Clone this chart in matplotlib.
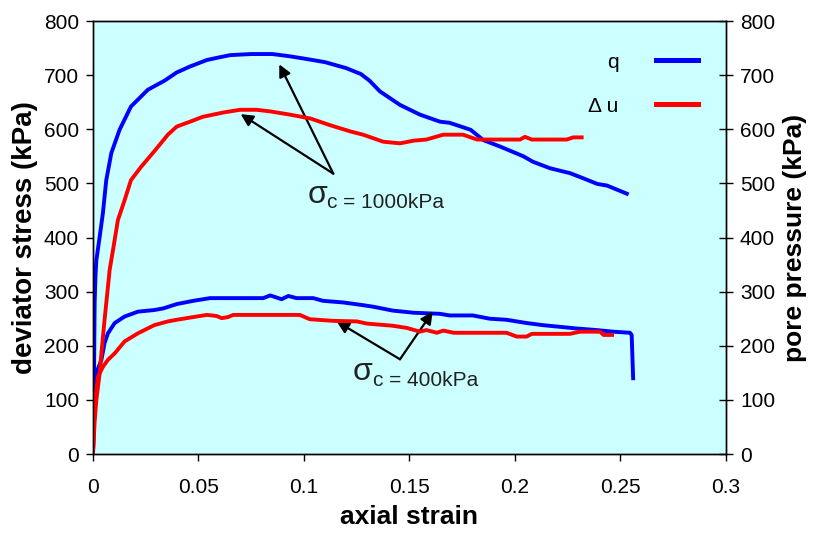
import matplotlib.pyplot as plt

plt.rcParams['font.family'] = ['Liberation Sans', 'DejaVu Sans']

# sigma_c = 1000 kPa test
strain_q1000 = [0, 0.0005, 0.0008, 0.0012, 0.0016, 0.0032, 0.0047, 0.0063, 0.0087, 0.0126,
                0.018, 0.026, 0.034, 0.0397, 0.046, 0.054, 0.060, 0.065, 0.075, 0.085,
                0.093, 0.101, 0.110, 0.120, 0.127, 0.131, 0.136, 0.1455, 0.155, 0.1645,
                0.169, 0.179, 0.185, 0.193, 0.204, 0.2085, 0.2166, 0.226, 0.232, 0.239,
                0.2436, 0.253]
q1000 = [0, 150, 280, 330, 358, 402, 445, 506, 556, 599,
         642, 673, 690, 705, 716, 728, 733, 737, 739, 739,
         735, 730, 724, 713, 702, 690, 670, 645, 627, 614,
         612, 599, 580, 568, 550, 540, 528, 519, 510, 499,
         496, 481]

strain_u1000 = [0, 0.0008, 0.0016, 0.0032, 0.004, 0.0055, 0.0071, 0.0079, 0.0095, 0.0118,
                0.015, 0.018, 0.0229, 0.0292, 0.0355, 0.0397, 0.046, 0.052, 0.0618, 0.0697,
                0.0776, 0.084, 0.0934, 0.103, 0.112, 0.122, 0.128, 0.1376, 0.1455, 0.152,
                0.158, 0.166, 0.1754, 0.182, 0.2024, 0.2047, 0.208, 0.2245, 0.2276, 0.2316]
u1000 = [0, 60, 100, 150, 186, 248, 309, 340, 377, 432,
         469, 506, 531, 560, 590, 605, 614, 623, 631, 636,
         636, 633, 627, 620, 608, 596, 590, 577, 574, 579,
         581, 590, 590, 581, 581, 586, 581, 581, 585, 585]

# sigma_c = 400 kPa test
strain_q400 = [0, 0.0008, 0.0016, 0.004, 0.0055, 0.0071, 0.0103, 0.015, 0.0213, 0.029,
               0.0333, 0.0397, 0.0475, 0.0555, 0.0807, 0.084, 0.0894, 0.0926, 0.0965, 0.1044,
               0.109, 0.1186, 0.128, 0.133, 0.142, 0.152, 0.1645, 0.169, 0.180, 0.188,
               0.196, 0.2055, 0.2134, 0.229, 0.2387, 0.2466, 0.2545, 0.2553, 0.256]
q400 = [0, 120, 150, 174, 205, 223, 242, 254, 263, 266,
        269, 277, 283, 288, 288, 293, 286, 292, 288, 288,
        283, 280, 275, 272, 265, 261, 259, 256, 256, 250,
        248, 242, 238, 232, 229, 226, 224, 220, 140]

strain_u400 = [0, 0.0008, 0.0024, 0.0047, 0.0071, 0.0103, 0.015, 0.0213, 0.029, 0.0355,
               0.0397, 0.0475, 0.054, 0.0586, 0.061, 0.064, 0.0665, 0.098, 0.1028, 0.114,
               0.125, 0.1297, 0.142, 0.1487, 0.155, 0.158, 0.163, 0.166, 0.171, 0.196,
               0.2008, 0.2055, 0.208, 0.226, 0.2308, 0.2403, 0.242, 0.246]
u400 = [0, 94, 143, 161, 174, 186, 208, 223, 238, 245,
        248, 253, 257, 255, 251, 253, 257, 257, 249, 246,
        245, 241, 237, 233, 226, 229, 224, 228, 224, 224,
        217, 217, 222, 222, 226, 226, 220, 220]

x_ticks = [0, 0.05, 0.1, 0.15, 0.2, 0.25, 0.3]
x_tick_labels = ['0', '0.05', '0.1', '0.15', '0.2', '0.25', '0.3']
y_ticks = [0, 100, 200, 300, 400, 500, 600, 700, 800]

BLUE = '#0000ff'
RED = '#ff0000'
LW = 2.8

fig = plt.figure(figsize=(8.22, 5.35), dpi=100)
ax = fig.add_axes([0.1131, 0.1514, 0.7701, 0.8093])
ax.set_facecolor('#ccffff')
ax2 = ax.twinx()

ln_q, = ax.plot(strain_q1000, q1000, color=BLUE, lw=LW, label='q')
ax.plot(strain_q400, q400, color=BLUE, lw=LW)
ln_u, = ax2.plot(strain_u1000, u1000, color=RED, lw=LW, label='Δ u')
ax2.plot(strain_u400, u400, color=RED, lw=LW)

for a in (ax, ax2):
    a.set_xlim(0, 0.3)
    a.set_ylim(0, 800)
    a.set_yticks(y_ticks)
    for s in a.spines.values():
        s.set_linewidth(1.0)

ax.set_xticks(x_ticks)
ax.set_xticklabels(x_tick_labels)
ax.tick_params(axis='both', labelsize=15, length=5, width=1, pad=5)
ax.tick_params(axis='x', pad=12)
ax2.tick_params(axis='y', direction='inout', labelsize=15, length=10, width=1, pad=5)

ax.set_xlabel('axial strain', fontsize=19, fontweight='bold', labelpad=6)
ax.set_ylabel('deviator stress (kPa)', fontsize=20, fontweight='bold', labelpad=4)
ax2.set_ylabel('pore pressure (kPa)', fontsize=19, fontweight='bold', labelpad=6)

leg = ax2.legend([ln_q, ln_u], ['q', 'Δ u'], loc='upper right', bbox_to_anchor=(0.985, 0.97),
                 frameon=False, markerfirst=False, fontsize=15, handlelength=2.0,
                 labelspacing=1.2, handletextpad=1.8)
for h in leg.get_lines():
    h.set_linewidth(3.6)

arrow = dict(arrowstyle='-|>', color='black', lw=1.6, mutation_scale=18, shrinkA=0, shrinkB=0)

# sigma_c = 1000 kPa callout
ax.annotate('', xy=(0.0883, 720), xytext=(0.1139, 518), arrowprops=arrow)
ax.annotate('', xy=(0.070, 628), xytext=(0.1139, 518), arrowprops=arrow)
ax.text(0.1019, 464, 'σ', fontsize=23, color='#222222')
ax.text(0.1109, 455, 'c = 1000kPa', fontsize=15, color='#222222')

# sigma_c = 400 kPa callout
ax.annotate('', xy=(0.1155, 245), xytext=(0.1455, 175), arrowprops=arrow)
ax.annotate('', xy=(0.161, 263), xytext=(0.1455, 175), arrowprops=arrow)
ax.text(0.1232, 137, 'σ', fontsize=23, color='#222222')
ax.text(0.1327, 126, 'c = 400kPa', fontsize=15, color='#222222')

fig.savefig('out.png', dpi=100)
